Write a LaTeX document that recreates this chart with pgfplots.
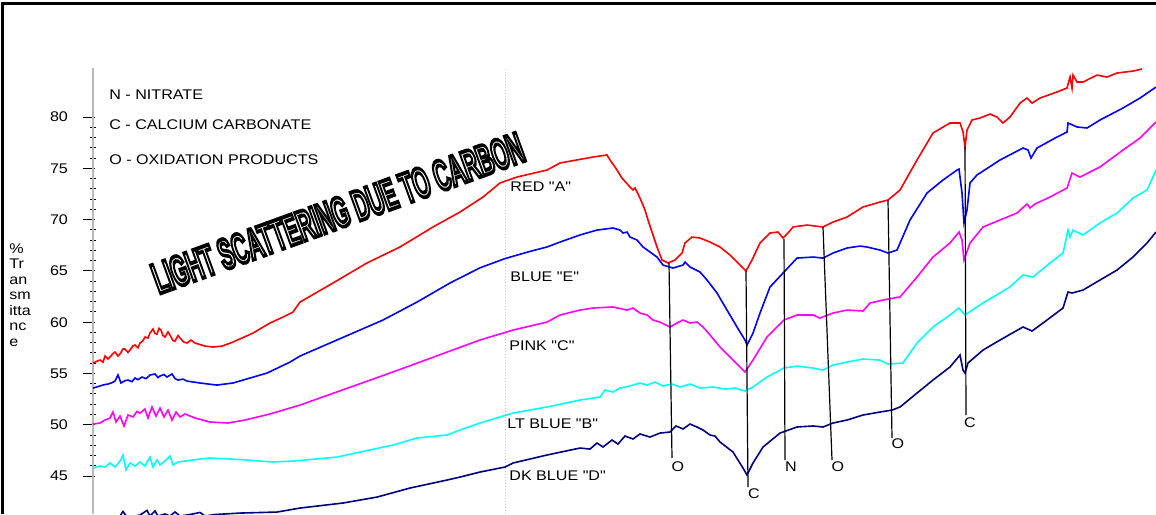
\documentclass[border=0pt]{standalone}
\usepackage{pgfplots}
\pgfplotsset{compat=1.18}
\usepackage{fontspec}
\setmainfont{Liberation Sans}[Ligatures=TeXOff]
\usepackage{graphicx}
\newcommand{\W}[1]{\scalebox{1.15}[1]{\fontsize{7pt}{8pt}\selectfont #1}}
\definecolor{navyb}{RGB}{0,0,128}
\definecolor{cred}{RGB}{255,0,0}
\definecolor{cblue}{RGB}{0,0,255}
\definecolor{cpink}{RGB}{255,0,255}
\definecolor{ccyan}{RGB}{0,255,255}
\begin{document}
\begin{tikzpicture}
\begin{axis}[
  at={(46.5pt,0pt)}, anchor=south west,
  scale only axis, width=531.5pt, height=223pt,
  xmin=93, xmax=1156, ymin=41.30, ymax=84.78,
  axis x line=none, axis y line*=left,
  y axis line style={-, gray!55, line width=1pt},
  ytick={45,50,...,80}, minor y tick num=4,
  tick align=center, major tick length=6pt, minor tick length=3pt,
  tick style={black, line width=0.5pt},
  major tick style={xshift=-2pt},
  /pgf/number format/assume math mode=true,
  yticklabel={\W{\pgfmathprintnumber{\tick}}},
  yticklabel style={xshift=-6pt},
]
\draw[gray!45, densely dotted, line width=0.5pt] (axis cs:505,41.3) -- (axis cs:505,84.78);
% RED "A"
\addplot[cred, line width=0.8pt] coordinates {(93,56.02)(97,56.20)(100,56.31)(103,56.10)(105,56.70)(108,56.40)(110,56.60)(113,56.95)(115,57.09)(118,56.70)(120,56.89)(123,57.40)(125,57.38)(128,57.05)(130,57.28)(133,57.70)(135,57.77)(138,57.50)(140,57.97)(143,58.20)(145,58.55)(148,58.45)(150,58.94)(153,59.33)(155,58.90)(157,58.84)(159,59.40)(161,59.23)(163,58.70)(165,58.55)(168,59.05)(170,58.75)(173,58.20)(175,58.16)(178,58.70)(180,58.45)(184,58.05)(187,57.97)(191,58.25)(195,57.97)(205,57.67)(213,57.58)(222,57.67)(233,58.06)(253,58.94)(270,59.92)(283,60.50)(293,60.99)(300,61.96)(333,63.82)(367,65.77)(400,67.33)(433,69.28)(460,70.74)(483,72.20)(500,73.57)(517,74.15)(547,74.83)(560,75.52)(593,76.10)(607,76.30)(610,75.81)(615,75.13)(622,74.05)(630,73.18)(633,72.88)(635,73.08)(640,72.10)(645,70.93)(648,69.96)(652,68.79)(657,67.33)(662,66.06)(668,65.77)(675,66.06)(682,66.74)(685,67.72)(692,68.30)(700,68.20)(710,67.81)(720,67.33)(730,66.55)(740,65.57)(746,64.99)(752,66.06)(760,67.72)(770,68.69)(778,68.79)(783,68.20)(788,68.69)(793,69.28)(807,69.47)(823,69.28)(833,69.76)(847,70.25)(863,71.23)(880,71.71)(888,71.91)(900,72.88)(917,75.81)(933,78.44)(950,79.42)(960,79.42)(963,78.54)(965,77.08)(967,78.73)(972,79.71)(980,79.90)(990,80.29)(997,80.00)(1003,79.42)(1010,80.00)(1020,81.36)(1027,81.85)(1032,81.36)(1040,81.85)(1057,82.44)(1067,82.83)(1070,83.90)(1072,82.83)(1073,84.09)(1077,83.41)(1083,83.41)(1097,84.09)(1107,83.90)(1117,84.29)(1133,84.48)(1142,84.68)};
% BLUE "E"
\addplot[cblue, line width=0.8pt] coordinates {(93,53.58)(100,53.78)(104,53.90)(108,53.97)(112,54.10)(115,54.26)(118,54.85)(121,54.07)(125,54.30)(128,54.36)(132,54.20)(135,54.56)(138,54.40)(142,54.65)(146,54.50)(150,54.85)(155,54.95)(158,54.60)(160,54.75)(164,54.90)(167,54.65)(172,54.95)(175,54.50)(178,54.36)(183,54.45)(187,54.26)(200,54.07)(217,53.87)(233,54.07)(267,55.04)(290,56.11)(300,56.70)(383,60.21)(417,61.96)(450,63.82)(480,65.3)(505,66.2)(530,66.9)(547,67.33)(560,67.81)(580,68.50)(597,68.98)(613,69.18)(620,68.98)(623,68.69)(627,68.79)(630,68.30)(637,68.01)(643,67.33)(650,66.84)(657,66.35)(663,65.57)(673,65.28)(683,65.57)(685,65.86)(690,65.38)(700,64.89)(707,64.11)(717,62.84)(727,61.18)(737,59.53)(745,58.26)(747,57.77)(753,58.94)(760,60.89)(770,63.43)(784,64.89)(797,66.25)(813,66.35)(823,66.25)(833,66.74)(847,67.23)(860,67.42)(867,67.33)(880,67.03)(888,66.74)(897,67.03)(910,69.96)(927,72.59)(943,73.86)(957,74.83)(959,74.93)(962,72.59)(964,69.67)(967,70.93)(970,73.57)(977,74.35)(1000,75.81)(1023,76.98)(1028,76.78)(1031,76.00)(1037,76.98)(1057,78.05)(1067,78.54)(1068,79.42)(1077,79.03)(1087,78.93)(1100,79.71)(1123,80.88)(1140,81.85)(1156,82.92)};
% PINK "C"
\addplot[cpink, line width=0.8pt] coordinates {(93,50.07)(100,50.17)(105,50.46)(110,50.66)(113,51.24)(116,50.27)(120,50.85)(124,49.88)(128,50.95)(133,50.76)(137,51.30)(140,51.14)(145,51.53)(148,50.66)(152,51.73)(156,50.85)(160,51.63)(164,50.76)(168,51.43)(172,50.46)(176,51.24)(180,50.76)(185,51.05)(195,50.66)(210,50.27)(228,50.17)(245,50.46)(270,51.05)(300,51.92)(390,55.04)(480,58.26)(513,59.23)(547,60.01)(560,60.70)(580,61.18)(593,61.38)(613,61.48)(627,61.18)(633,61.38)(640,60.89)(647,60.70)(653,60.21)(660,60.01)(670,59.53)(677,59.92)(683,60.21)(690,59.92)(697,60.01)(703,59.53)(710,58.75)(720,57.58)(733,56.31)(745,55.14)(753,56.31)(767,58.55)(784,60.21)(797,60.70)(813,60.70)(820,60.40)(833,60.89)(847,61.18)(863,61.09)(870,61.87)(888,62.26)(900,62.45)(917,64.40)(933,66.35)(950,67.72)(959,68.79)(962,68.01)(964,66.06)(970,67.72)(983,69.28)(1017,70.64)(1027,71.52)(1030,71.13)(1035,71.52)(1050,72.20)(1067,73.08)(1072,74.54)(1080,74.15)(1100,75.13)(1123,76.78)(1140,77.95)(1156,79.51)};
% LT BLUE "B"
\addplot[ccyan, line width=0.8pt] coordinates {(93,45.78)(100,45.98)(105,45.88)(110,46.27)(115,45.88)(120,46.46)(123,47.05)(126,45.59)(130,46.27)(135,45.98)(140,46.37)(145,45.98)(150,46.85)(153,45.88)(157,46.56)(160,46.08)(165,46.46)(170,46.95)(173,46.08)(178,46.37)(185,46.46)(200,46.66)(210,46.76)(230,46.66)(247,46.56)(260,46.46)(273,46.37)(293,46.46)(337,46.85)(360,47.34)(393,48.02)(417,48.71)(447,49.00)(460,49.49)(480,50.17)(513,51.14)(547,51.73)(580,52.41)(600,52.70)(605,53.39)(613,53.19)(620,53.58)(630,53.78)(640,54.07)(647,53.87)(655,54.16)(663,53.78)(672,53.97)(680,53.68)(690,53.97)(700,53.58)(713,53.68)(725,53.48)(735,53.58)(745,53.29)(753,53.68)(767,54.65)(784,55.53)(797,55.72)(813,55.53)(823,55.33)(833,55.82)(847,56.11)(863,56.41)(880,56.31)(888,55.92)(903,56.02)(917,57.97)(933,59.53)(950,60.70)(959,61.38)(965,60.70)(983,61.87)(1010,63.43)(1023,64.60)(1033,64.40)(1050,65.77)(1063,66.74)(1068,68.98)(1070,68.30)(1073,68.98)(1083,68.50)(1100,69.67)(1117,70.64)(1133,72.10)(1147,72.88)(1156,74.83)};
% DK BLUE "D"
\addplot[navyb, line width=0.8pt] coordinates {(93,40.8)(105,40.9)(115,41.0)(120,41.1)(123,41.55)(127,41.0)(135,41.1)(140,41.2)(147,41.65)(150,41.1)(155,41.6)(158,41.1)(165,41.3)(170,41.1)(175,41.5)(180,41.1)(190,41.25)(200,41.45)(205,41.1)(215,41.25)(240,41.39)(277,41.49)(300,41.88)(343,42.37)(377,42.95)(410,43.83)(447,44.61)(460,44.90)(480,45.39)(505,45.88)(513,46.27)(547,47.05)(580,47.73)(590,47.63)(597,48.22)(603,47.83)(612,48.51)(618,48.12)(625,48.90)(633,48.61)(640,49.10)(650,48.80)(660,49.19)(670,49.29)(676,49.88)(683,49.59)(690,50.07)(697,49.78)(703,49.49)(710,49.00)(715,48.90)(720,48.32)(733,47.34)(743,45.78)(747,45.10)(753,46.27)(763,47.83)(780,49.19)(797,49.78)(813,49.88)(823,49.78)(833,50.17)(847,50.46)(863,50.95)(880,51.24)(892,51.43)(900,51.73)(917,53.09)(933,54.36)(950,55.63)(960,56.80)(963,55.33)(965,55.04)(968,56.02)(983,57.28)(1000,58.26)(1023,59.53)(1032,59.14)(1043,59.92)(1063,61.38)(1068,62.94)(1072,62.84)(1083,63.13)(1100,64.11)(1117,65.08)(1133,66.35)(1147,67.72)(1156,68.79)};
% annotation lines
\draw[black, line width=0.6pt] (axis cs:669,65.77) -- (axis cs:672,46.76);
\draw[black, line width=0.6pt] (axis cs:746,64.99) -- (axis cs:748,43.93);
\draw[black, line width=0.6pt] (axis cs:784,68.11) -- (axis cs:785,46.56);
\draw[black, line width=0.6pt] (axis cs:823,69.28) -- (axis cs:832,46.56);
\draw[black, line width=0.6pt] (axis cs:888,71.91) -- (axis cs:892,48.71);
\draw[black, line width=0.6pt] (axis cs:965,77.08) -- (axis cs:966,50.95);
\node[inner sep=0] at (axis cs:678,45.88) {\W{O}};
\node[inner sep=0] at (axis cs:754,43.25) {\W{C}};
\node[inner sep=0] at (axis cs:791,45.88) {\W{N}};
\node[inner sep=0] at (axis cs:838,45.88) {\W{O}};
\node[inner sep=0] at (axis cs:898,48.12) {\W{O}};
\node[inner sep=0] at (axis cs:970,50.17) {\W{C}};
% curve labels
\node[anchor=west, inner sep=0] at (axis cs:510,73.18) {\W{RED "A"}};
\node[anchor=west, inner sep=0] at (axis cs:510,64.40) {\W{BLUE "E"}};
\node[anchor=west, inner sep=0] at (axis cs:509,57.67) {\W{PINK "C"}};
\node[anchor=west, inner sep=0] at (axis cs:507,50.07) {\W{LT BLUE "B"}};
\node[anchor=west, inner sep=0] at (axis cs:509,45.00) {\W{DK BLUE "D"}};
% notes
\node[anchor=west, inner sep=0] at (axis cs:109,82.14) {\W{N - NITRATE}};
\node[anchor=west, inner sep=0] at (axis cs:109,79.22) {\W{C - CALCIUM CARBONATE}};
\node[anchor=west, inner sep=0] at (axis cs:109,75.81) {\W{O - OXIDATION PRODUCTS}};
\node[inner sep=0, rotate=20] at (axis cs:338,70.64) {\resizebox{196pt}{15pt}{\special{pdf:code q 1 Tr 0.9 w}\bfseries LIGHT SCATTERING DUE TO CARBON\special{pdf:code Q}}};
\end{axis}
\node[anchor=north west, align=left, inner sep=0, font=\fontsize{7pt}{7.75pt}\selectfont] at (4.5pt,135.5pt) {\W{\%}\\\W{Tr}\\\W{an}\\\W{sm}\\\W{itta}\\\W{nc}\\\W{e}};
\draw[black, line width=1.5pt] (1.25pt,0pt) -- (1.25pt,255.25pt) -- (578pt,255.25pt);
\pgfresetboundingbox
\path[use as bounding box] (0pt,0pt) rectangle (578pt,257pt);
\end{tikzpicture}
\end{document}
